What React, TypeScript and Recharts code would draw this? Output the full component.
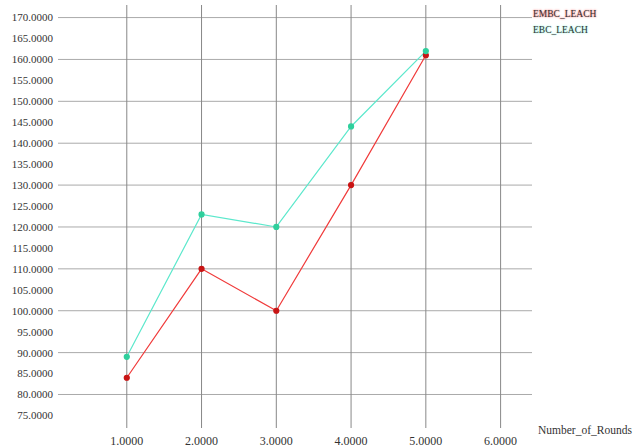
import { CartesianGrid, Line, LineChart, XAxis, YAxis } from 'recharts';

const rounds = [1, 2, 3, 4, 5];
const embcLeach = [84, 110, 100, 130, 161];
const ebcLeach = [89, 123, 120, 144, 162];
const xTicks = [1, 2, 3, 4, 5, 6];
const yTicks = [75, 80, 85, 90, 95, 100, 105, 110, 115, 120, 125, 130, 135, 140, 145, 150, 155, 160, 165, 170];

const data = rounds.map((r, i) => ({ round: r, embc: embcLeach[i], ebc: ebcLeach[i] }));

const SERIF = '"Liberation Serif", "Times New Roman", serif';
const RED = '#f03a3a';
const CYAN = '#5ce8cc';

const legendItems = [
  { label: 'EMBC_LEACH', color: RED },
  { label: 'EBC_LEACH', color: CYAN },
];

export default function App() {
  return (
    <div style={{ position: 'absolute', left: 0, top: 0, width: 640, height: 447, background: '#fff', overflow: 'hidden' }}>
      <LineChart width={640} height={447} data={data} margin={{ top: 5, right: 108, left: 0, bottom: 0 }}>
        <CartesianGrid horizontal={true} vertical={false} stroke="#aaa" horizontalValues={yTicks} />
        <CartesianGrid horizontal={false} vertical={true} stroke="#888" verticalValues={xTicks} />
        <XAxis
          dataKey="round"
          type="number"
          domain={[0.08, 6.42]}
          ticks={xTicks}
          allowDataOverflow
          height={19}
          axisLine={false}
          tickLine={false}
          tickFormatter={(v: number) => v.toFixed(4)}
          tick={{ fontFamily: SERIF, fontSize: 12, fill: '#333' }}
        />
        <YAxis
          type="number"
          domain={[72, 173]}
          ticks={yTicks}
          allowDataOverflow
          width={58}
          axisLine={false}
          tickLine={false}
          tickSize={3}
          tickFormatter={(v: number) => v.toFixed(4)}
          tick={{ fontFamily: SERIF, fontSize: 11, fill: '#333' }}
        />
        <Line
          dataKey="embc"
          name="EMBC_LEACH"
          stroke={RED}
          strokeWidth={1.2}
          dot={{ r: 2.5, fill: '#c81414', stroke: '#c81414' }}
          isAnimationActive={false}
        />
        <Line
          dataKey="ebc"
          name="EBC_LEACH"
          stroke={CYAN}
          strokeWidth={1.2}
          dot={{ r: 2.5, fill: '#2fcf9c', stroke: '#2fcf9c' }}
          isAnimationActive={false}
        />
      </LineChart>
      <div
        style={{
          position: 'absolute',
          left: 533,
          top: 6,
          fontFamily: SERIF,
          fontSize: 9.5,
          color: '#333',
          lineHeight: '16px',
        }}
      >
        {legendItems.map((it) => (
          <div key={it.label} style={{ textShadow: `0 0 2px ${it.color}` }}>
            {it.label}
          </div>
        ))}
      </div>
      <div
        style={{
          position: 'absolute',
          left: 538,
          top: 424,
          fontFamily: SERIF,
          fontSize: 11.5,
          color: '#333',
          whiteSpace: 'nowrap',
        }}
      >
        Number_of_Rounds
      </div>
    </div>
  );
}
